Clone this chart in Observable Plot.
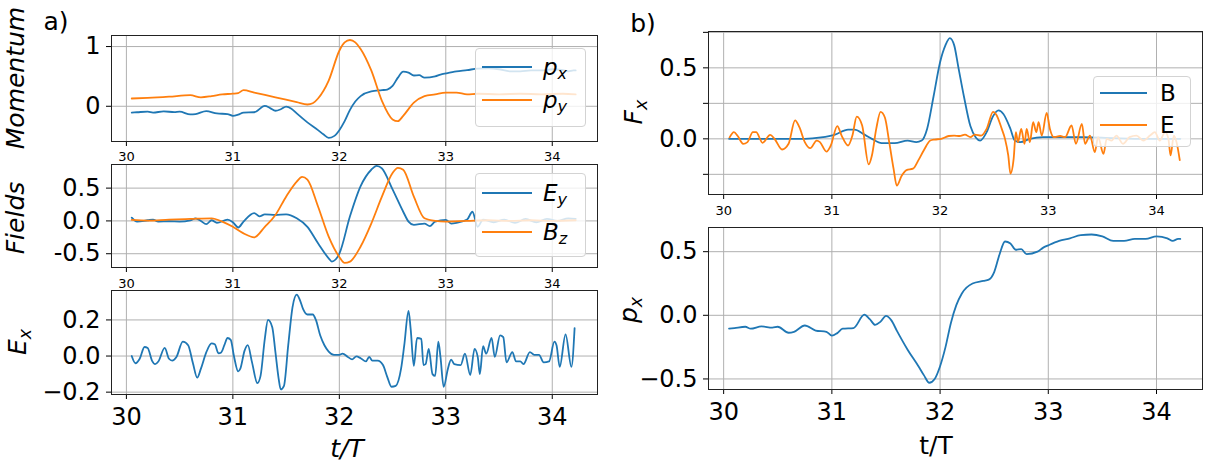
<!DOCTYPE html>
<html><head><meta charset="utf-8">
<script src="https://cdn.jsdelivr.net/npm/d3@7"></script>
<script src="https://cdn.jsdelivr.net/npm/@observablehq/plot@0.6"></script>
<style>
body{margin:0;background:#fff;}
#root{position:relative;width:1226px;height:473px;overflow:hidden;font-family:"DejaVu Sans",sans-serif;color:#000;background:#fff;}
.lbl{position:absolute;font-size:25px;white-space:nowrap;line-height:1;transform:translate(-50%,-50%);}
.rot{transform:translate(-50%,-50%) rotate(-90deg);}
.it{font-style:italic;}
.leg{position:absolute;background:rgba(255,255,255,0.8);border:1px solid #d3d3d3;border-radius:4px;box-sizing:border-box;}
.ll{position:absolute;height:0;border-top:2px solid;}
.lt{position:absolute;font-size:23px;line-height:1;transform:translateY(-50%);white-space:nowrap;}
sub{font-size:0.7em;vertical-align:-0.3em;line-height:0;}
</style></head><body><div id="root"></div>
<script>
// ---------------- data ----------------
const xTicks = [30, 31, 32, 33, 34];
const blue = "#1f77b4", orange = "#ff7f0e";

const pxT = [30.05,30.1,30.2,30.25,30.35,30.45,30.5,30.6,30.65,30.75,30.85,30.95,31.0,31.05,31.1,31.2,31.3,31.35,31.4,31.45,31.5,31.55,31.6,31.7,31.8,31.85,31.9,31.95,32.0,32.05,32.1,32.15,32.2,32.3,32.4,32.45,32.5,32.55,32.6,32.65,32.7,32.75,32.8,32.9,32.95,33.0,33.1,33.2,33.3,33.4,33.5,33.6,33.7,33.8,33.9,34.0,34.1,34.15,34.2,34.22];
const pxV = [-0.105,-0.1,-0.09,-0.105,-0.087,-0.097,-0.09,-0.137,-0.13,-0.08,-0.12,-0.13,-0.16,-0.14,-0.105,-0.1,0.005,-0.03,-0.075,-0.05,-0.005,-0.04,-0.12,-0.27,-0.4,-0.47,-0.53,-0.5,-0.4,-0.25,-0.06,0.08,0.17,0.25,0.27,0.28,0.34,0.48,0.58,0.565,0.515,0.52,0.48,0.5,0.53,0.55,0.585,0.605,0.63,0.635,0.62,0.585,0.585,0.6,0.6,0.62,0.605,0.585,0.6,0.6];

const pyT = [30.05,30.2,30.4,30.6,30.7,30.8,30.9,31.0,31.05,31.1,31.2,31.4,31.6,31.7,31.75,31.8,31.9,32.0,32.05,32.1,32.15,32.2,32.3,32.4,32.5,32.55,32.6,32.7,32.8,32.9,33.0,33.1,33.2,33.3,33.5,33.7,33.9,34.1,34.22];
const pyV = [0.13,0.14,0.16,0.185,0.15,0.17,0.2,0.21,0.22,0.27,0.23,0.15,0.07,0.03,0.05,0.13,0.43,0.93,1.07,1.11,1.07,0.96,0.6,0.09,-0.22,-0.25,-0.16,0.06,0.17,0.2,0.23,0.23,0.2,0.21,0.2,0.21,0.2,0.21,0.2];

const eyT = [30.05,30.1,30.2,30.25,30.3,30.4,30.5,30.6,30.65,30.7,30.75,30.8,30.85,30.95,31.0,31.05,31.1,31.2,31.25,31.3,31.4,31.5,31.6,31.7,31.8,31.9,31.93,32.0,32.1,32.2,32.3,32.35,32.4,32.5,32.6,32.65,32.7,32.8,32.85,32.9,33.0,33.05,33.1,33.2,33.25,33.3,33.35,33.45,33.55,33.65,33.75,33.85,33.95,34.05,34.15,34.22];
const eyV = [0.05,-0.01,0.01,0.02,-0.01,-0.005,-0.01,0.01,0.04,0.0,-0.05,0.01,-0.03,0.02,-0.02,-0.1,-0.01,0.12,0.07,0.1,0.09,0.1,0.04,-0.09,-0.34,-0.57,-0.62,-0.5,0.07,0.53,0.78,0.84,0.8,0.48,0.14,-0.01,-0.06,-0.04,-0.08,-0.01,0.015,-0.04,-0.03,0.02,0.14,-0.09,0.02,-0.02,0.02,-0.03,0.03,-0.02,0.03,0.0,0.04,0.03];

const bzT = [30.05,30.2,30.4,30.6,30.8,30.9,31.0,31.1,31.2,31.3,31.4,31.5,31.6,31.65,31.7,31.8,31.9,32.0,32.05,32.1,32.2,32.3,32.4,32.5,32.55,32.6,32.7,32.8,32.9,33.0,33.2,33.4,33.6,33.8,34.0,34.22];
const bzV = [0.015,0.005,0.02,0.03,0.04,-0.01,-0.09,-0.19,-0.25,-0.09,0.09,0.37,0.6,0.67,0.63,0.22,-0.24,-0.55,-0.64,-0.62,-0.39,-0.04,0.37,0.73,0.81,0.78,0.37,0.04,0.0,-0.01,0.0,0.01,0.0,0.01,0.0,0.01];

const exT = [30.05,30.085,30.125,30.17,30.2,30.24,30.27,30.3,30.36,30.4,
  30.43,30.47,30.53,30.58,30.625,30.665,30.7,30.75,30.8,30.83,
  30.865,30.89,30.92,30.95,30.98,31.01,31.05,31.07,31.11,31.14,
  31.18,31.23,31.26,31.3,31.33,31.37,31.4,31.43,31.45,31.48,
  31.52,31.56,31.6,31.63,31.66,31.7,31.75,31.78,31.82,31.86,
  31.9,31.95,32.0,32.03,32.08,32.12,32.16,32.2,32.25,32.28,
  32.31,32.36,32.41,32.45,32.49,32.53,32.58,32.61,32.65,32.67,
  32.7,32.73,32.77,32.79,32.81,32.84,32.875,32.9,32.93,32.95,
  32.98,33.02,33.05,33.08,33.14,33.18,33.23,33.27,33.3,33.32,
  33.35,33.38,33.43,33.46,33.51,33.54,33.57,33.625,33.66,33.7,
  33.73,33.79,33.83,33.875,33.92,33.97,34.02,34.04,34.07,34.125,
  34.18,34.21];
const exV = [0.0,-0.04,-0.015,0.05,0.045,-0.025,-0.045,-0.03,0.045,-0.015,
  -0.025,-0.005,0.08,0.06,-0.04,-0.12,-0.07,0.02,0.07,0.065,
  0.015,0.02,0.06,0.1,0.09,0.0,-0.085,-0.07,0.03,0.06,
  -0.035,-0.15,-0.11,0.095,0.2,0.16,0.02,-0.125,-0.185,-0.165,
  0.06,0.27,0.34,0.31,0.26,0.23,0.23,0.2,0.115,0.06,
  0.025,0.007,0.007,0.013,-0.005,-0.018,-0.002,-0.012,-0.03,-0.005,
  -0.025,-0.025,-0.05,-0.115,-0.17,-0.165,-0.07,0.06,0.25,0.15,
  -0.055,0.1,0.095,-0.05,-0.045,0.04,-0.1,-0.11,0.08,-0.005,
  -0.17,-0.07,-0.02,-0.045,-0.05,0.013,-0.105,0.04,-0.005,-0.1,
  0.055,0.013,0.1,-0.005,0.115,0.105,-0.035,0.022,-0.03,-0.03,
  -0.045,0.022,0.007,0.007,-0.035,-0.03,0.08,0.06,-0.06,0.12,
  -0.06,0.155];

const fbT = [30.05,30.4,30.75,30.9,31.03,31.15,31.21,31.29,31.37,31.46,
  31.58,31.7,31.78,31.83,31.88,31.94,32.0,32.05,32.09,32.13,
  32.17,32.22,32.28,32.33,32.37,32.43,32.49,32.54,32.585,32.65,
  32.69,32.74,32.83,32.95,33.1,33.32,33.6,33.9,34.22];
const fbV = [0,0,0,0.01,0.03,0.065,0.065,0.035,0,-0.03,
  -0.03,-0.012,-0.023,-0.012,0.07,0.3,0.54,0.66,0.71,0.66,
  0.5,0.3,0.09,0.01,-0.012,0.047,0.16,0.2,0.175,0.07,
  -0.012,-0.023,0,0.012,0.012,0.012,0.005,0,0];

const feT = [30.055,30.095,30.13,30.18,30.22,30.27,30.3,30.36,30.43,30.47,
  30.54,30.6,30.66,30.7,30.75,30.8,30.86,30.89,30.95,30.99,
  31.05,31.09,31.15,31.19,31.23,31.28,31.34,31.37,31.41,31.45,
  31.49,31.53,31.57,31.6,31.645,31.69,31.75,31.8,31.85,31.91,
  31.95,32.01,32.08,32.13,32.18,32.23,32.28,32.32,32.38,32.43,
  32.49,32.52,32.57,32.6,32.63,32.65,32.68,32.7,32.72,32.75,
  32.78,32.8,32.83,32.86,32.89,32.91,32.94,32.985,33.015,33.05,
  33.11,33.155,33.215,33.255,33.31,33.34,33.385,33.43,33.46,33.51,
  33.54,33.585,33.63,33.69,33.75,33.815,33.88,33.94,33.985,34.03,
  34.08,34.11,34.13,34.16,34.185,34.215];
const feV = [0.01,0.047,0.02,-0.035,-0.023,0.047,0.047,-0.028,0.028,0,
  -0.075,-0.035,0.13,0.082,-0.023,-0.066,-0.012,-0.023,-0.09,-0.047,
  0.09,0.023,-0.047,0.023,0.157,0.094,-0.18,-0.117,0.07,0.19,
  0.15,-0.023,-0.21,-0.33,-0.26,-0.22,-0.21,-0.15,-0.08,-0.012,
  -0.005,0,0.02,0.023,0.02,0.03,0.012,0.03,0.023,0.07,
  0.19,0.17,0.07,0,-0.117,-0.245,-0.14,0.047,-0.023,0.07,
  -0.035,0.07,-0.023,0.117,0.047,0.117,0.023,0.183,0.07,0.012,
  0.02,0.012,0.094,-0.035,0.105,-0.035,0.023,-0.094,0.012,-0.105,
  0,-0.012,0.023,-0.035,0.012,0.023,-0.012,0.023,0.047,-0.012,
  0.047,0,-0.117,0.023,-0.023,-0.15];

// ---------------- drawing ----------------
const root = document.getElementById("root");
const xDomain = [29.86, 34.425];
const rows = (t, v) => t.map((d, i) => ({t: d, v: v[i]}));

function panel(cfg) {
  const ml = 80, mr = 10, mt = 10, mb = 50;
  const w = cfg.right - cfg.left, h = cfg.bottom - cfg.top;
  const marks = [
    Plot.gridX(xTicks, {stroke: "#b0b0b0", strokeOpacity: 1, strokeWidth: 1}),
    Plot.gridY(cfg.yTicks, {stroke: "#b0b0b0", strokeOpacity: 1, strokeWidth: 1}),
    ...cfg.series.map(s => Plot.line(rows(s.t, s.v), {x: "t", y: "v", stroke: s.color, strokeWidth: 1.8, curve: "monotone-x"})),
    Plot.axisX(xTicks, {tickSize: 5, tickPadding: cfg.xPad, fontSize: cfg.xFont, label: null, tickFormat: d => String(d)}),
    Plot.axisY(cfg.yTicks, {tickSize: 5, tickPadding: 6, fontSize: 24, label: null, tickFormat: cfg.yFormat}),
    Plot.frame({stroke: "#222", strokeWidth: 1})
  ];
  const svg = Plot.plot({
    width: w + ml + mr, height: h + mt + mb,
    marginLeft: ml, marginRight: mr, marginTop: mt, marginBottom: mb,
    x: {domain: xDomain},
    y: {domain: cfg.yDomain},
    style: {fontFamily: "DejaVu Sans", background: "transparent", color: "#000", overflow: "visible"},
    marks
  });
  svg.style.position = "absolute";
  svg.style.left = (cfg.left - ml) + "px";
  svg.style.top = (cfg.top - mt) + "px";
  root.appendChild(svg);
}

const f1 = d3.format(".1f");
// a) Momentum
panel({left: 111, right: 597, top: 35, bottom: 141, yDomain: [-0.59, 1.185], yTicks: [0, 1], yFormat: d => String(d),
  xPad: 5, xFont: 13, series: [{t: pxT, v: pxV, color: blue}, {t: pyT, v: pyV, color: orange}]});
// Fields
panel({left: 111, right: 597, top: 164, bottom: 267, yDomain: [-0.71, 0.86], yTicks: [-0.5, 0, 0.5], yFormat: d => d.toFixed(1),
  xPad: 6, xFont: 13, series: [{t: eyT, v: eyV, color: blue}, {t: bzT, v: bzV, color: orange}]});
// Ex
panel({left: 111, right: 597, top: 290, bottom: 394, yDomain: [-0.213, 0.363], yTicks: [-0.2, 0, 0.2], yFormat: f1,
  xPad: 8, xFont: 24, series: [{t: exT, v: exV, color: blue}]});
// b) Fx
panel({left: 708, right: 1202, top: 31, bottom: 194, yDomain: [-0.392, 0.756], yTicks: [-0.25, 0, 0.25, 0.5, 0.75],
  yFormat: d => (d === 0 || d === 0.5) ? d.toFixed(1) : "",
  xPad: 6, xFont: 13, series: [{t: fbT, v: fbV, color: blue}, {t: feT, v: feV, color: orange}]});
// px
panel({left: 708, right: 1202, top: 227, bottom: 389, yDomain: [-0.583, 0.69], yTicks: [-0.5, 0, 0.5], yFormat: f1,
  xPad: 8, xFont: 24, series: [{t: pxT, v: pxV, color: blue}]});

// ---------------- text & legends ----------------
function label(html, cx, cy, cls, size) {
  const d = document.createElement("div");
  d.className = "lbl " + (cls || "");
  d.style.left = cx + "px"; d.style.top = cy + "px";
  if (size) d.style.fontSize = size + "px";
  d.innerHTML = html;
  root.appendChild(d);
}
label("a)", 56, 21);
label("b)", 643, 23);
label("Momentum", 15, 78, "rot it");
label("Fields", 15, 218, "rot it");
label("E<sub>x</sub>", 17, 342, "rot it");
label("F<sub>x</sub>", 633, 112, "rot it");
label("p<sub>x</sub>", 628, 310, "rot it");
label("t/T", 347, 448, "it");
label("t/T", 936, 445);

function legend(box, items) {
  const b = document.createElement("div");
  b.className = "leg";
  Object.assign(b.style, {left: box[0] + "px", top: box[1] + "px", width: box[2] + "px", height: box[3] + "px"});
  root.appendChild(b);
  for (const it of items) {
    const l = document.createElement("div");
    l.className = "ll";
    Object.assign(l.style, {left: it.x1 + "px", top: (it.y - 1) + "px", width: (it.x2 - it.x1) + "px", borderTopColor: it.color});
    root.appendChild(l);
    const t = document.createElement("div");
    t.className = "lt" + (it.italic ? " it" : "");
    Object.assign(t.style, {left: it.tx + "px", top: it.y + "px"});
    t.innerHTML = it.html;
    root.appendChild(t);
  }
}
legend([475, 48, 111, 79], [
  {x1: 482, x2: 532, y: 67, tx: 543, color: blue, html: "p<sub>x</sub>", italic: true},
  {x1: 482, x2: 532, y: 100, tx: 543, color: orange, html: "p<sub>y</sub>", italic: true}
]);
legend([475, 173, 111, 84], [
  {x1: 482, x2: 532, y: 193, tx: 543, color: blue, html: "E<sub>y</sub>", italic: true},
  {x1: 482, x2: 532, y: 232, tx: 543, color: orange, html: "B<sub>z</sub>", italic: true}
]);
legend([1093, 76, 98, 71], [
  {x1: 1100, x2: 1147, y: 93, tx: 1160, color: blue, html: "B"},
  {x1: 1100, x2: 1147, y: 125, tx: 1160, color: orange, html: "E"}
]);
</script></body></html>
